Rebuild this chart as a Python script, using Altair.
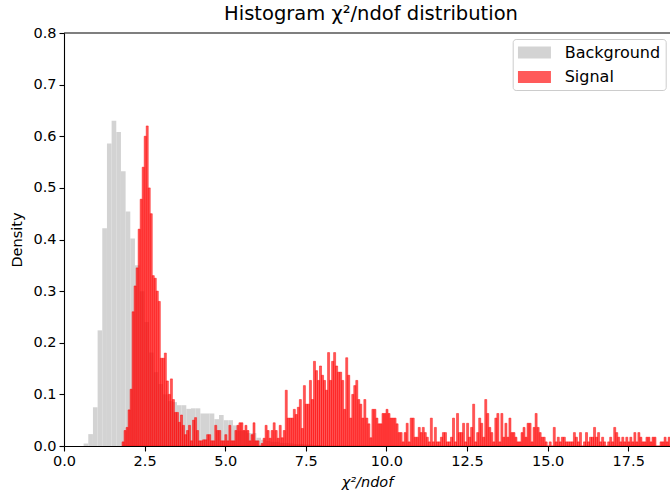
import altair as alt
import pandas as pd

# ---------------- data ----------------
series_names = ["Background", "Signal"]
series_colors = ["#d3d3d3", "#ff5a5a"]

# Background histogram: first bin edge, bin width, densities
bg_edge0 = 0.608
bg_binw = 0.1448
bg_density = [
    0.005, 0.023, 0.075, 0.224, 0.422, 0.586, 0.630, 0.608, 0.532, 0.454,
    0.402, 0.350, 0.300, 0.240, 0.181, 0.143, 0.120, 0.100, 0.087, 0.085,
    0.079, 0.079, 0.072, 0.073, 0.073, 0.063, 0.063, 0.063, 0.052, 0.060,
    0.050, 0.050, 0.040, 0.030, 0.030, 0.025, 0.025, 0.016, 0.012, 0.010,
    0.008, 0.008, 0.006, 0.006, 0.005, 0.004, 0.004, 0.003, 0.003, 0.002,
    0.002,
]

# Signal histogram: first bin edge, bin width, densities
sig_edge0 = 1.80
sig_binw = 0.0625
sig_density = [
    0.008, 0.03, 0.036, 0.07, 0.11, 0.26, 0.31, 0.345, 0.42, 0.478,
    0.54, 0.60, 0.62, 0.50, 0.45, 0.33, 0.325, 0.30, 0.28, 0.17,
    0.17, 0.18, 0.126, 0.10, 0.13, 0.09, 0.065, 0.065, 0.046, 0.06,
    0.04, 0.022, 0.03, 0.04, 0.01, 0.05, 0.055, 0.03, 0.01, 0.01,
    0.012, 0.012, 0.022, 0.022, 0.01, 0.01, 0.04, 0.03, 0.03, 0.01,
    0.01, 0.022, 0.01, 0.04, 0.01, 0.01, 0.03, 0.04, 0.045, 0.045,
    0.03, 0.04, 0.03, 0.01, 0.022, 0.045, 0.01, 0.01, 0.0, 0.005,
    0.015, 0.04, 0.03, 0.015, 0.03, 0.045, 0.03, 0.015, 0.04, 0.016,
    0.03, 0.108, 0.054, 0.054, 0.054, 0.071, 0.061, 0.075, 0.09, 0.034,
    0.117, 0.081, 0.081, 0.127, 0.09, 0.164, 0.146, 0.127, 0.155, 0.137,
    0.127, 0.108, 0.181, 0.127, 0.164, 0.181, 0.155, 0.143, 0.143, 0.127,
    0.071, 0.171, 0.137, 0.054, 0.10, 0.117, 0.127, 0.09, 0.081, 0.054,
    0.09, 0.054, 0.043, 0.016, 0.071, 0.071, 0.054, 0.043, 0.043, 0.063,
    0.063, 0.071, 0.063, 0.054, 0.054, 0.054, 0.043, 0.026,
    # 138 - 201
    0.026, 0.008, 0.026, 0.044, 0.008, 0.054, 0.054, 0.017, 0.017, 0.036,
    0.026, 0.036, 0.026, 0.017, 0.008, 0.054, 0.008, 0.036, 0.008, 0.008,
    0.017, 0.026, 0.026, 0.008, 0.008, 0.017, 0.054, 0.008, 0.063, 0.026,
    0.026, 0.044, 0.008, 0.044, 0.017, 0.036, 0.081, 0.008, 0.026, 0.054,
    0.044, 0.017, 0.09, 0.063, 0.036, 0.026, 0.008, 0.054, 0.063, 0.008,
    0.063, 0.017, 0.044, 0.017, 0.054, 0.026, 0.026, 0.017, 0.008, 0.008,
    0.026, 0.036, 0.017, 0.044,
    # 202 - 271
    0.044, 0.008, 0.036, 0.063, 0.036, 0.026, 0.017, 0.017, 0.008, 0.0,
    0.008, 0.0, 0.036, 0.008, 0.017, 0.008, 0.017, 0.017, 0.008, 0.008,
    0.008, 0.008, 0.026, 0.017, 0.008, 0.026, 0.0, 0.008, 0.026, 0.008,
    0.017, 0.017, 0.036, 0.017, 0.026, 0.008, 0.017, 0.008, 0.0, 0.008,
    0.017, 0.008, 0.036, 0.026, 0.017, 0.008, 0.017, 0.008, 0.017, 0.008,
    0.017, 0.008, 0.026, 0.008, 0.026, 0.017, 0.008, 0.008, 0.017, 0.017,
    0.008, 0.017, 0.017, 0.0, 0.0, 0.008, 0.008, 0.017, 0.008, 0.017,
]

x_ticks = [0.0, 2.5, 5.0, 7.5, 10.0, 12.5, 15.0, 17.5]
y_ticks = [0.0, 0.1, 0.2, 0.3, 0.4, 0.5, 0.6, 0.7, 0.8]
x_domain = [0.0, 18.796]
y_domain = [0.0, 0.8]

title_text = "Histogram χ²/ndof distribution"
x_title = "χ²/ndof"
y_title = "Density"

# ---------------- tables ----------------
bg = pd.DataFrame({
    "lo": [bg_edge0 + i * bg_binw for i in range(len(bg_density))],
    "hi": [bg_edge0 + (i + 1) * bg_binw for i in range(len(bg_density))],
    "density": bg_density,
    "base": 0.0,
    "series": series_names[0],
})
sig = pd.DataFrame({
    "lo": [sig_edge0 + i * sig_binw for i in range(len(sig_density))],
    "hi": [sig_edge0 + (i + 1) * sig_binw for i in range(len(sig_density))],
    "density": sig_density,
    "base": 0.0,
    "series": series_names[1],
})
frame_top = pd.DataFrame({"y": [y_domain[1]]})

FONT = "DejaVu Sans"

x_scale = alt.Scale(domain=x_domain, nice=False, zero=False)
y_scale = alt.Scale(domain=y_domain, nice=False)

x_axis = alt.Axis(values=x_ticks, format=".1f", title=x_title, titleFontStyle="italic",
                  labelFlush=False, labelOverlap=False, titlePadding=8)
y_axis = alt.Axis(values=y_ticks, format=".1f", title=y_title,
                  labelFlush=False, labelOverlap=False, titlePadding=8)

legend = alt.Legend(
    title=None, orient="none", legendX=448.7, legendY=6,
    symbolType="M-1,-0.72L3,-0.72L3,0.72L-1,0.72Z", symbolSize=272,
    symbolStrokeWidth=0, symbolOpacity=1,
    labelFont=FONT, labelFontSize=16, labelColor="black", labelOffset=30,
    rowPadding=7.5, padding=5, fillColor="white", strokeColor="#cccccc",
    cornerRadius=3,
)

bg_layer = alt.Chart(bg).mark_bar(clip=True, strokeWidth=0).encode(
    x=alt.X("lo:Q", scale=x_scale, axis=x_axis),
    x2="hi:Q",
    y=alt.Y("density:Q", scale=y_scale, axis=y_axis),
    y2="base:Q",
    color=alt.Color("series:N", scale=alt.Scale(domain=series_names, range=series_colors),
                    legend=legend),
)

sig_layer = alt.Chart(sig).mark_bar(
    clip=True, color="red", fillOpacity=0.65, stroke="red", strokeOpacity=0.65,
    strokeWidth=0.7,
).encode(
    x=alt.X("lo:Q", scale=x_scale),
    x2="hi:Q",
    y=alt.Y("density:Q", scale=y_scale),
    y2="base:Q",
)

top_frame = alt.Chart(frame_top).mark_rule(color="black", strokeWidth=1.1).encode(
    y=alt.Y("y:Q", scale=y_scale)
)

chart = alt.layer(bg_layer, sig_layer, top_frame).properties(
    width=606, height=413,
    padding={"left": 64, "top": 33, "right": 0, "bottom": 48},
    autosize=alt.AutoSizeParams(type="none"),
    title=alt.TitleParams(title_text, dx=4, dy=18, frame="group", baseline="alphabetic",
                          offset=4),
).configure_view(stroke=None).configure_axis(
    domainColor="black", domainWidth=1.1, tickColor="black", tickWidth=1.1, tickSize=5,
    labelFont=FONT, labelFontSize=14.5, labelColor="black", labelPadding=3,
    titleFont=FONT, titleFontSize=14.5, titleFontWeight="normal", titleColor="black",
    grid=False,
).configure_title(
    font=FONT, fontSize=19.5, fontWeight="normal", color="black",
)

chart.save("out.html", embed_options={"renderer": "svg", "actions": False})
